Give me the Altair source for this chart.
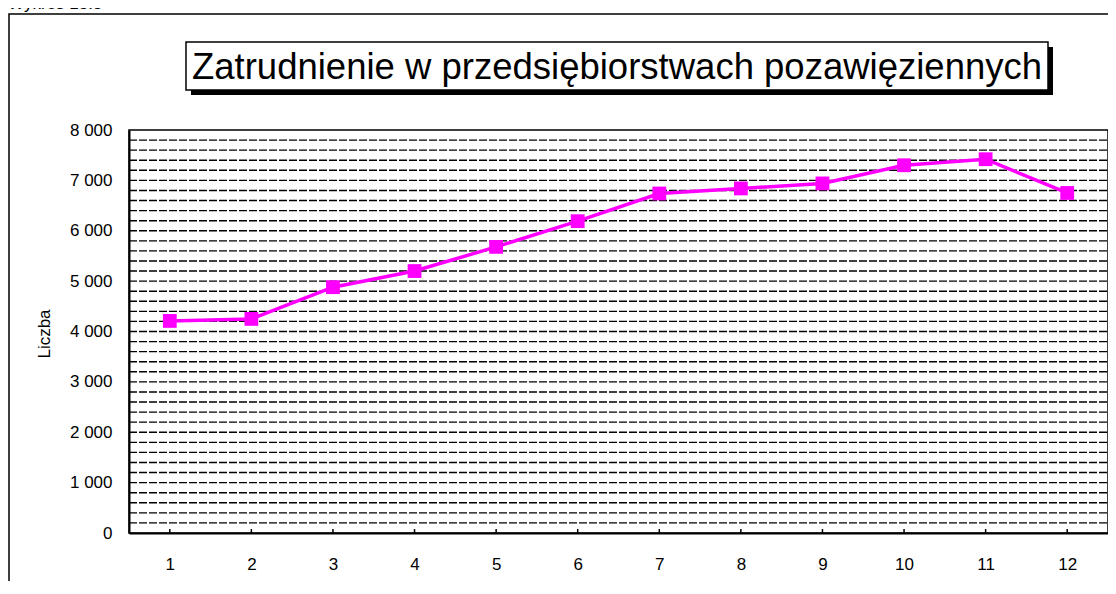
import altair as alt
import pandas as pd

months = list(range(1, 13))
values = [4210, 4250, 4880, 5200, 5680, 6190, 6740, 6840, 6940, 7300, 7420, 6750]
title_text = "Zatrudnienie w przedsiębiorstwach pozawięziennych"
header_text = "Wykres 13.3"
y_title = "Liczba"
label_values = list(range(0, 8001, 1000))
grid_values = list(range(200, 8000, 200))

FONT = "Liberation Sans"
W, H = 979, 403
MAG = "#FF00FF"

df = pd.DataFrame({"m": months, "v": values})
gdf = pd.DataFrame({"g": grid_values})
one = alt.Data(values=[{}])

base = alt.Chart(df)

outer = alt.Chart(one).mark_rect(filled=False, stroke="black", strokeWidth=1.5).encode(
    x=alt.value(-120), x2=alt.value(1000), y=alt.value(-116), y2=alt.value(480))

shadow = alt.Chart(one).mark_rect(fill="black").encode(
    x=alt.value(62), x2=alt.value(924), y=alt.value(-83), y2=alt.value(-35))
box = alt.Chart(one).mark_rect(fill="white", stroke="black", strokeWidth=1.5).encode(
    x=alt.value(57), x2=alt.value(919), y=alt.value(-88), y2=alt.value(-40))
title = alt.Chart(one).mark_text(font=FONT, fontSize=36.5, color="black", align="center",
                                 baseline="alphabetic").encode(
    x=alt.value(488), y=alt.value(-51), text=alt.value(title_text))
header = alt.Chart(one).mark_text(font=FONT, fontSize=17, color="black", align="left",
                                  baseline="bottom").encode(
    x=alt.value(-121), y=alt.value(-117), text=alt.value(header_text))
ylab = alt.Chart(one).mark_text(font=FONT, fontSize=17, color="black", align="center",
                                baseline="middle", angle=270).encode(
    x=alt.value(-84), y=alt.value(204), text=alt.value(y_title))

xscale = alt.Scale(domain=[0.5, 12.5], nice=False, zero=False)
yscale = alt.Scale(domain=[0, 8000], nice=False)

grid = alt.Chart(gdf).mark_rule(color="black", strokeWidth=1.4, strokeDash=[8, 2]).encode(
    y=alt.Y("g:Q", scale=yscale), x=alt.value(0), x2=alt.value(W))

line = base.mark_line(color=MAG, strokeWidth=3.5).encode(
    x=alt.X("m:Q", scale=xscale,
            axis=alt.Axis(values=months, grid=False, ticks=False, tickSize=0, labelPadding=23,
                          domain=True, domainColor="black", domainWidth=2, title=None,
                          format="d", labelOverlap=False)),
    y=alt.Y("v:Q", scale=yscale,
            axis=alt.Axis(values=label_values, grid=False, ticks=False, tickSize=0,
                          labelPadding=17, domain=True, domainColor="black", domainWidth=2,
                          title=None, labelOverlap=False,
                          labelExpr="replace(format(datum.value, ',d'), ',', ' ')")),
)
pts = base.mark_point(shape="square", filled=True, color=MAG, opacity=1, size=190).encode(
    x=alt.X("m:Q", scale=xscale), y=alt.Y("v:Q", scale=yscale))
ticks = base.mark_rule(color="black", strokeWidth=1.5).encode(
    x=alt.X("m:Q", scale=xscale), y=alt.value(H - 4), y2=alt.value(H))

chart = alt.layer(outer, shadow, box, title, header, ylab, grid, line, ticks, pts).properties(
    width=W, height=H, autosize="none",
    padding={"left": 121, "top": 122, "right": 0, "bottom": 48},
    background="white",
).configure_view(stroke="black", strokeWidth=1.5).configure_axis(
    labelFont=FONT, labelFontSize=17, labelColor="black")

chart.save("out.html", embed_options={"renderer": "svg", "actions": False})
